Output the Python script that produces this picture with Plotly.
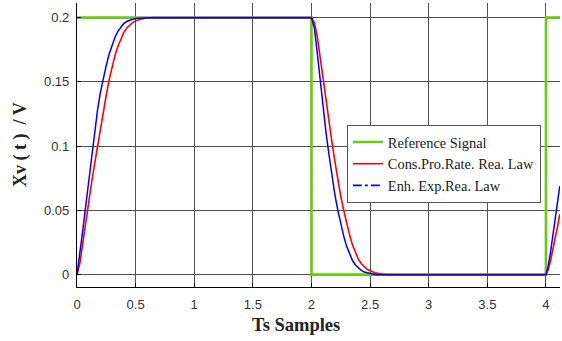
import plotly.graph_objects as go

# Reference signal (square wave)
ref_t = [0, 2, 2, 4, 4, 4.12]
ref_v = [0.2, 0.2, 0, 0, 0.2, 0.2]

# Cons.Pro.Rate. Rea. Law (red)
red_t = [0, 0.025, 0.05, 0.075, 0.1, 0.125, 0.15, 0.175, 0.2, 0.225, 0.25, 0.275, 0.3,
         0.325, 0.35, 0.375, 0.4, 0.425, 0.45, 0.475, 0.5, 0.55, 0.6, 0.65, 2.0,
         2.025, 2.05, 2.075, 2.1, 2.125, 2.15, 2.175, 2.2, 2.225, 2.25, 2.275, 2.3,
         2.325, 2.35, 2.375, 2.4, 2.425, 2.45, 2.475, 2.5, 2.55, 2.6, 2.65, 4.0,
         4.02, 4.04, 4.06, 4.08, 4.1, 4.118]
red_v = [0, 0.009, 0.025, 0.042, 0.058, 0.072, 0.086, 0.1, 0.114, 0.127, 0.14, 0.152, 0.162,
         0.171, 0.178, 0.184, 0.1885, 0.192, 0.1945, 0.1962, 0.1975, 0.199, 0.1997, 0.2, 0.2,
         0.196, 0.185, 0.168, 0.15, 0.134, 0.118, 0.103, 0.088, 0.074, 0.061, 0.05, 0.04,
         0.031, 0.023, 0.017, 0.012, 0.0085, 0.006, 0.0042, 0.003, 0.0012, 0.0004, 0, 0,
         0.004, 0.011, 0.019, 0.029, 0.038, 0.047]

# Enh. Exp.Rea. Law (blue)
blue_t = [0, 0.025, 0.05, 0.075, 0.1, 0.125, 0.15, 0.175, 0.2, 0.225, 0.25, 0.275, 0.3,
          0.325, 0.35, 0.375, 0.4, 0.425, 0.45, 0.5, 0.55, 0.6, 2.0,
          2.025, 2.05, 2.075, 2.1, 2.125, 2.15, 2.175, 2.2, 2.225, 2.25, 2.275, 2.3,
          2.325, 2.35, 2.375, 2.4, 2.425, 2.45, 2.5, 2.55, 4.0,
          4.02, 4.04, 4.06, 4.08, 4.1, 4.118]
blue_v = [0, 0.016, 0.035, 0.054, 0.073, 0.093, 0.112, 0.128, 0.142, 0.153, 0.163, 0.172, 0.179,
          0.185, 0.1895, 0.193, 0.1955, 0.197, 0.198, 0.1993, 0.1998, 0.2, 0.2,
          0.192, 0.172, 0.15, 0.129, 0.11, 0.093, 0.077, 0.062, 0.05, 0.039, 0.03, 0.022,
          0.016, 0.011, 0.0075, 0.005, 0.0033, 0.002, 0.0007, 0, 0,
          0.007, 0.018, 0.031, 0.045, 0.058, 0.069]

x_ticks = [0, 0.5, 1, 1.5, 2, 2.5, 3, 3.5, 4]
x_tick_labels = ["0", "0.5", "1", "1.5", "2", "2.5", "3", "3.5", "4"]
y_ticks = [0, 0.05, 0.1, 0.15, 0.2]
y_tick_labels = ["0", "0.05", "0.1", "0.15", "0.2"]

GREEN = "#66CC11"
RED = "#FF0000"
BLUE = "#0000FF"

fig = go.Figure()
fig.add_trace(go.Scatter(x=ref_t, y=ref_v, mode="lines", name="Reference Signal",
                         line=dict(color=GREEN, width=2.6)))
fig.add_trace(go.Scatter(x=red_t, y=red_v, mode="lines", name="Cons.Pro.Rate. Rea. Law",
                         line=dict(color=RED, width=1.6)))
fig.add_trace(go.Scatter(x=blue_t, y=blue_v, mode="lines", name="Enh. Exp.Rea. Law",
                         showlegend=False,
                         line=dict(color=BLUE, width=1.5)))
fig.add_trace(go.Scatter(x=[None], y=[None], mode="lines", name="Enh. Exp.Rea. Law",
                         line=dict(color=BLUE, width=1.6, dash="dashdot")))

axis_common = dict(showgrid=True, gridcolor="#505050", gridwidth=1.1,
                   showline=True, linecolor="#000000", linewidth=1.2,
                   ticks="inside", ticklen=4, tickcolor="#000000",
                   zeroline=False, mirror=False,
                   tickfont=dict(family="Liberation Sans, Arial, sans-serif", size=13, color="#333333"))

fig.update_xaxes(range=[0, 4.12], tickvals=x_ticks, ticktext=x_tick_labels,
                 ticklabelstandoff=5, **axis_common)
fig.update_yaxes(range=[-0.0096, 0.2114], tickvals=y_ticks, ticktext=y_tick_labels,
                 ticklabelstandoff=4, **axis_common)

fig.update_layout(
    width=562, height=341,
    margin=dict(l=77, r=2, t=3, b=54),
    paper_bgcolor="white", plot_bgcolor="white",
    legend=dict(x=0.5587, y=0.57, xanchor="left", yanchor="top",
                bgcolor="white", bordercolor="#555555", borderwidth=1,
                font=dict(family="Liberation Serif, Times New Roman, serif", size=14.4, color="#222222"),
                tracegroupgap=0),
    annotations=[
        dict(text="<b>Ts Samples</b>", xref="paper", yref="paper", x=0.454, y=-0.135,
             xanchor="center", yanchor="middle", showarrow=False,
             font=dict(family="Liberation Serif, Times New Roman, serif", size=18.5, color="#222222")),
        dict(text="<b>Xv ( t )  / V</b>", xref="paper", yref="paper", x=-0.118, y=0.5,
             xanchor="center", yanchor="middle", showarrow=False, textangle=-90,
             font=dict(family="Liberation Serif, Times New Roman, serif", size=18, color="#222222")),
    ],
)

fig.write_html("out.html", config={"displayModeBar": False},
               post_script="document.body.style.margin='0';document.body.style.padding='0';")
